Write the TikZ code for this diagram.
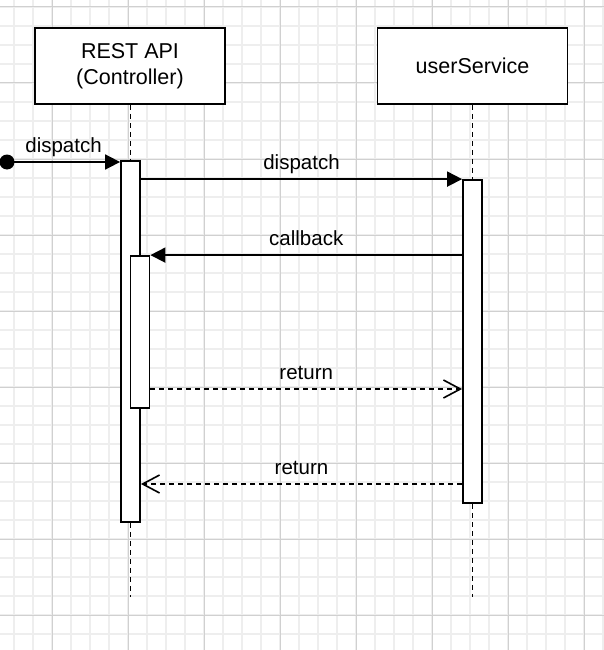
\documentclass[tikz,border=0pt]{standalone}
\usepackage{fontspec}
\setmainfont{Liberation Sans}
\usetikzlibrary{arrows.meta}
\definecolor{gridminor}{HTML}{EEEEEE}
\definecolor{gridmajor}{HTML}{D0D0D0}
\begin{document}
\begin{tikzpicture}[x=1pt,y=-1pt,
  minorline/.style={draw=gridminor,line width=1.4pt},
  majorline/.style={draw=gridmajor,line width=1pt},
  headbox/.style={draw,line width=1.8pt,fill=white,minimum width=190pt,minimum height=76pt,inner sep=0pt,align=center,font=\fontsize{21.5}{25.5}\selectfont},
  actbar/.style={draw,line width=1.8pt,fill=white,minimum width=19pt,inner sep=0pt},
  lifeline/.style={line width=1.8pt,dash pattern=on 5pt off 4pt},
  syncmsg/.style={line width=1.8pt,-{Triangle[length=15pt,width=15pt]}},
  retmsg/.style={line width=1.6pt,dash pattern=on 5pt off 4pt,-{Straight Barb[length=17pt,width=18pt,line width=1.6pt]}},
  msglabel/.style={midway,anchor=base,yshift=10pt,font=\fontsize{20.5}{24}\selectfont}]
\useasboundingbox (0,0) rectangle (604,650);
\fill[white] (0,0) rectangle (604,650);
% grid
\foreach \k in {0,...,31} \draw[minorline] (14+19*\k,0) -- (14+19*\k,650);
\foreach \k in {0,...,33} \draw[minorline] (0,7+19*\k) -- (604,7+19*\k);
\foreach \k in {0,...,7} \draw[majorline] (52+76*\k,0) -- (52+76*\k,650);
\foreach \k in {0,...,8} \draw[majorline] (0,7+76*\k) -- (604,7+76*\k);
% heads
\node[headbox] (rest) at (130,66) {REST API\\(Controller)};
\node[headbox] (user) at (472.5,66) {userService};
% end points of lifelines
\coordinate (restend) at (130.5,597);
\coordinate (userend) at (472.5,597);
% activation bars
\node[actbar,minimum height=361pt] (restbar) at (130.5,341.5) {};
\node[actbar,minimum height=152pt] (innerbar) at (140,332) {};
\node[actbar,minimum height=323pt] (userbar) at (472.5,341.5) {};
% lifelines
\draw[lifeline] (rest.south -| restbar.north) -- (restbar.north);
\draw[lifeline] (restbar.south) -- (restend);
\draw[lifeline] (user.south -| userbar.north) -- (userbar.north);
\draw[lifeline] (userbar.south) -- (userend);
% messages
\node[circle,fill,inner sep=0pt,minimum size=15pt] (start) at (7,162) {};
\draw[syncmsg] (start.center) -- (start -| restbar.west) node[msglabel] {dispatch};
\draw[syncmsg] (restbar.east |- userbar.north) -- (userbar.north west) node[msglabel] {dispatch};
\draw[syncmsg] (userbar.west |- innerbar.north) -- (innerbar.north east) node[msglabel] {callback};
\coordinate (r1) at (0,389);
\coordinate (r2) at (0,484);
\draw[retmsg] (innerbar.east |- r1) -- (userbar.west |- r1) node[msglabel] {return};
\draw[retmsg] (userbar.west |- r2) -- (restbar.east |- r2) node[msglabel] {return};
\end{tikzpicture}
\end{document}
